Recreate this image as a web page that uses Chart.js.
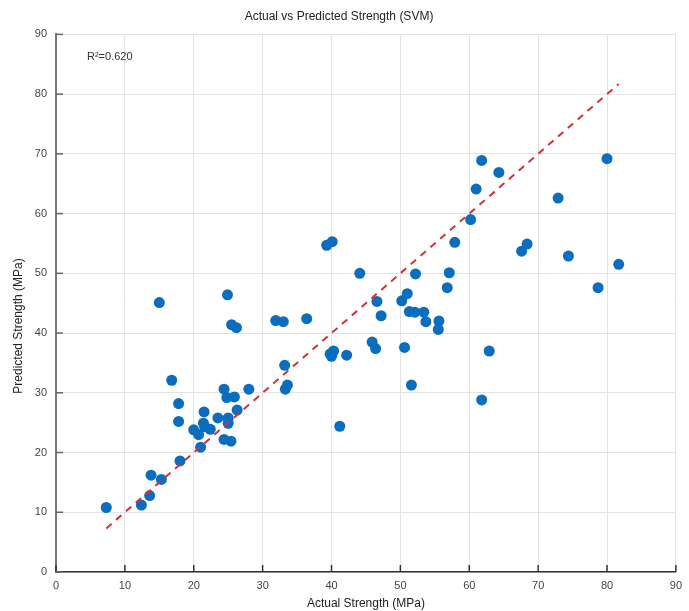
<!DOCTYPE html>
<html>
<head>
<meta charset="utf-8">
<script src="https://cdn.jsdelivr.net/npm/chart.js@4/dist/chart.umd.min.js"></script>
<style>
  html, body { margin: 0; padding: 0; background: #fff; }
  #wrap { width: 689px; height: 611px; }
</style>
</head>
<body>
<div id="wrap"><canvas id="svmChart" width="689" height="611"></canvas></div>
<script>
// valores (MPa)
const actual = [
  7.3, 12.4, 13.6, 13.8, 15.3, 15.0, 16.8, 17.8, 17.8, 18.0,
  20.0, 20.7, 21.0, 21.5, 21.4, 21.6, 22.4, 23.5, 24.4, 24.8,
  25.9, 24.4, 25.4, 25.0, 25.0, 26.3, 28.0, 24.9, 25.5, 26.2,
  31.9, 33.0, 33.2, 33.6, 33.3, 36.4, 39.3, 40.1, 41.2, 40.3,
  40.0, 39.8, 42.2, 44.1, 45.9, 46.4, 46.6, 47.2, 50.2, 51.0,
  50.6, 51.6, 51.3, 52.1, 53.4, 53.7, 55.6, 55.5, 52.2, 57.1,
  56.8, 57.9, 60.2, 61.0, 61.8, 64.3, 62.9, 61.8, 67.6, 68.4,
  72.9, 74.4, 78.7, 80.0, 81.7
]
const predicted = [
  10.8, 11.2, 12.8, 16.2, 15.5, 45.1, 32.1, 28.2, 25.2, 18.6,
  23.8, 23.0, 20.9, 26.8, 24.9, 24.3, 23.9, 25.8, 30.6, 29.2,
  29.3, 22.2, 21.9, 25.8, 24.9, 27.1, 30.6, 46.4, 41.4, 40.9,
  42.1, 41.9, 34.6, 31.3, 30.6, 42.4, 54.7, 55.3, 24.4, 37.0,
  36.1, 36.5, 36.3, 50.0, 38.5, 37.4, 45.3, 42.9, 45.4, 46.6,
  37.6, 31.3, 43.6, 43.5, 43.5, 41.9, 42.0, 40.6, 49.9, 50.1,
  47.6, 55.2, 59.0, 64.1, 68.9, 66.9, 37.0, 28.8, 53.7, 54.9,
  62.6, 52.9, 47.6, 69.2, 51.5
]
const axisTicks = [0, 10, 20, 30, 40, 50, 60, 70, 80, 90]
const r2Label = "R²=0.620"

const fonte = "'Liberation Sans', Arial, sans-serif"

const pontos = actual.map((x, i) => ({ x: x, y: predicted[i] }))
const minVal = Math.min(...actual)
const maxVal = Math.max(...actual)
const linhaIdeal = [{ x: minVal, y: minVal }, { x: maxVal, y: maxVal }]

// marcas para dentro, texto R² e título do eixo Y
const extrasPlugin = {
  id: "extras",
  afterDraw(chart) {
    const ctx = chart.ctx
    const area = chart.chartArea
    const sx = chart.scales.x
    const sy = chart.scales.y
    ctx.save()
    ctx.lineWidth = 1.5
    ctx.strokeStyle = "#333"
    axisTicks.forEach((v) => {
      const px = sx.getPixelForValue(v)
      ctx.beginPath()
      ctx.moveTo(px, area.bottom)
      ctx.lineTo(px, area.bottom - 7)
      ctx.stroke()
    })
    ctx.strokeStyle = "#666"
    axisTicks.forEach((v) => {
      const py = sy.getPixelForValue(v)
      ctx.beginPath()
      ctx.moveTo(area.left, py)
      ctx.lineTo(area.left + 7, py)
      ctx.stroke()
    })

    ctx.fillStyle = "#333"
    ctx.font = "11px " + fonte
    ctx.textAlign = "left"
    ctx.textBaseline = "middle"
    ctx.fillText(r2Label, area.left + 0.05 * (area.right - area.left), 57)

    ctx.translate(19, 326)
    ctx.rotate(-Math.PI / 2)
    ctx.textAlign = "center"
    ctx.font = "12px " + fonte
    ctx.fillStyle = "#222"
    ctx.fillText("Predicted Strength (MPa)", 0, 0)
    ctx.restore()
  },
}

const ctx = document.getElementById("svmChart").getContext("2d")
new Chart(ctx, {
  type: "scatter",
  data: {
    datasets: [
      {
        type: "line",
        label: "Ideal",
        data: linhaIdeal,
        borderColor: "#d3313a",
        borderWidth: 2,
        borderDash: [7, 6],
        pointRadius: 0,
        fill: false,
        order: 0,
      },
      {
        label: "SVM",
        data: pontos,
        backgroundColor: "#0a6dbd",
        borderColor: "#0a6dbd",
        borderWidth: 0,
        pointRadius: 5.5,
        order: 1,
      },
    ],
  },
  options: {
    responsive: false,
    animation: false,
    layout: { padding: { left: 0, right: 11, top: 0, bottom: 0 } },
    plugins: {
      legend: { display: false },
      tooltip: { enabled: false },
      title: {
        display: true,
        text: "Actual vs Predicted Strength (SVM)",
        color: "#222",
        font: { family: fonte, size: 12, weight: "normal" },
        padding: { top: 9, bottom: 11 },
      },
    },
    scales: {
      x: {
        type: "linear",
        min: 0,
        max: 90,
        afterBuildTicks: (s) => { s.ticks = axisTicks.map((v) => ({ value: v })) },
        afterFit: (s) => { s.height = 39 },
        grid: { color: "#e3e3e3", lineWidth: 1, drawTicks: false },
        border: { color: "#333", width: 1.5 },
        ticks: { color: "#444", font: { family: fonte, size: 11 }, padding: 7 },
        title: {
          display: true,
          text: "Actual Strength (MPa)",
          color: "#222",
          font: { family: fonte, size: 12 },
          padding: { top: 2, bottom: 0 },
        },
      },
      y: {
        type: "linear",
        min: 0,
        max: 90,
        afterBuildTicks: (s) => { s.ticks = axisTicks.map((v) => ({ value: v })) },
        afterFit: (s) => { s.width = 56 },
        grid: { color: "#e3e3e3", lineWidth: 1, drawTicks: false },
        border: { color: "#777", width: 2 },
        ticks: { color: "#444", font: { family: fonte, size: 11 }, padding: 9 },
      },
    },
  },
  plugins: [extrasPlugin],
})
</script>
</body>
</html>
